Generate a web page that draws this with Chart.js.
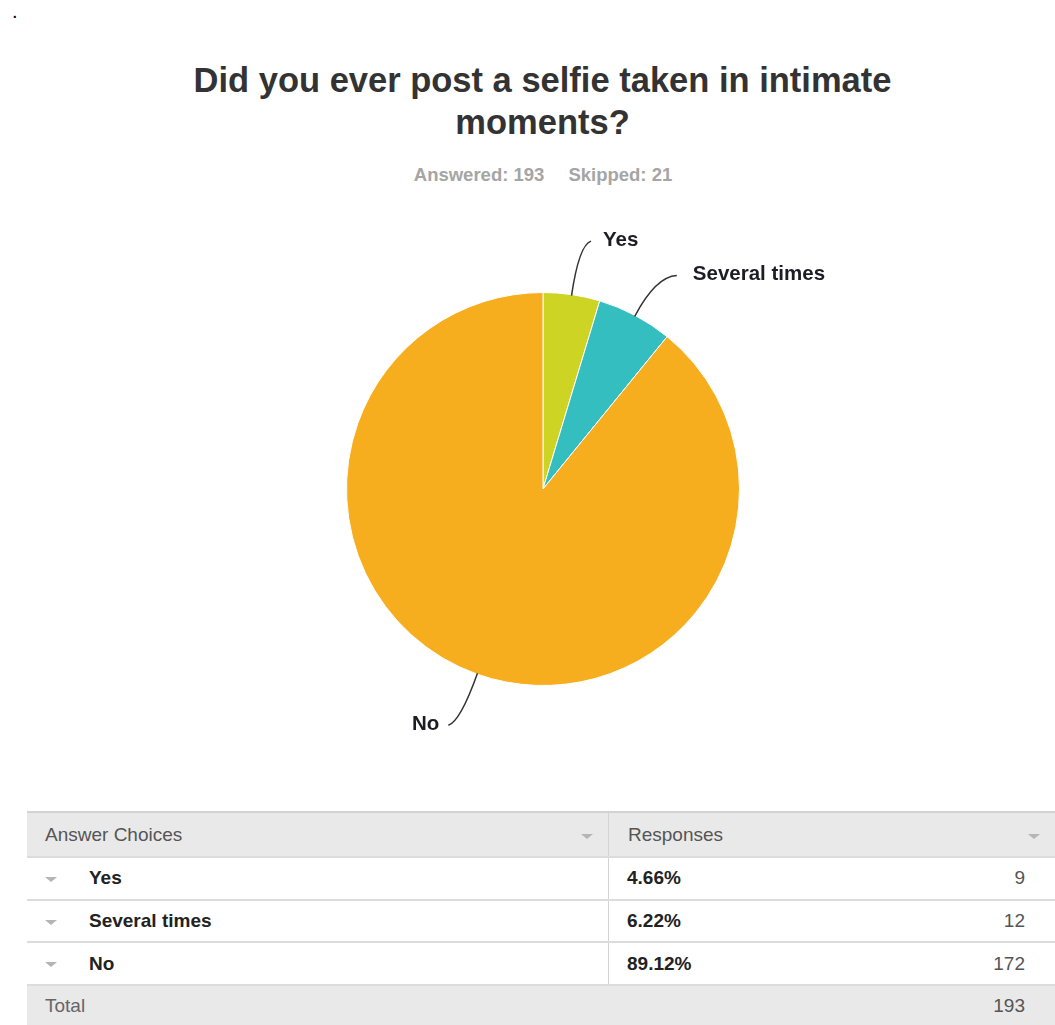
<!DOCTYPE html>
<html>
<head>
<meta charset="utf-8">
<script src="https://cdn.jsdelivr.net/npm/chart.js@4/dist/chart.umd.min.js"></script>
<style>
  body { margin: 0; background: #fff; font-family: "Liberation Sans", Arial, sans-serif; }
  * { box-sizing: border-box; }
  #page { position: relative; width: 1055px; height: 1025px; overflow: hidden; }
  .dot { position: absolute; left: 12px; top: 0px; font-size: 20px; color: #000; }
  .title { position: absolute; left: 30px; width: 1025px; top: 59px; text-align: center;
           font-size: 34.5px; line-height: 42px; font-weight: bold; color: #333; }
  .sub { position: absolute; left: 30px; width: 1026px; top: 164px; text-align: center;
         font-size: 18.5px; line-height: 22px; font-weight: bold; color: #a5a5a5; }
  .sub span + span { margin-left: 24px; }
  #chartBox { position: absolute; left: 0; top: 0; width: 1055px; height: 790px; }
  #grid { position: absolute; left: 27px; top: 811px; width: 1028px; font-size: 19px; }
  .row { position: relative; display: flex; border-bottom: 2px solid #dcdcdc; background: #fff; }
  .row.head { height: 47px; border-top: 2px solid #d3d3d3; background: #e9e9e9; color: #555; }
  .row.body { height: 42.7px; color: #222; }
  .row.total { height: 40px; border-bottom: none; background: #e9e9e9; color: #666; }
  .c1 { position: relative; width: 582px; flex: none; border-right: 1px solid #d3d3d3; display: flex; align-items: center; }
  .c2 { position: relative; flex: 1; display: flex; align-items: center; }
  .row.total .c1 { border-right: none; }
  .head .c1 { padding-left: 18px; }
  .head .c2 { padding-left: 19px; }
  .body .c1 { padding-left: 62px; font-weight: bold; }
  .body .c2 { padding-left: 18px; font-weight: bold; }
  .total .c1 { padding-left: 18px; }
  .num { position: absolute; right: 30px; font-weight: normal; color: #555; }
  .tri { position: absolute; width: 0; height: 0; border-left: 6px solid transparent;
         border-right: 6px solid transparent; border-top: 5px solid #b5b5b5; }
  .head .tri { right: 15px; top: 21px; }
  .body .tri { left: 18px; top: 19px; }
</style>
</head>
<body>
<div id="page">
  <div class="dot">.</div>
  <div class="title">Did you ever post a selfie taken in intimate<br>moments?</div>
  <div class="sub"><span id="answered"></span><span id="skipped"></span></div>
  <div id="chartBox"><canvas id="myPieChart"></canvas></div>
  <div id="grid"></div>
</div>
<script>
const choices = ['Yes', 'Several times', 'No'];
const responses = [9, 12, 172];
const percents = ['4.66%', '6.22%', '89.12%'];
const sliceColors = ['#cdd424', '#34bec0', '#f6ae1f'];
const answered = 193;
const skipped = 21;

document.getElementById('answered').textContent = 'Answered: ' + answered;
document.getElementById('skipped').textContent = 'Skipped: ' + skipped;

// callout lines: radial run, then a short hook toward the label
const callouts = [
    { ext: 50, hook: 12, gap: 12, lift: 4 },
    { ext: 44, hook: 21, gap: 16, lift: 1 },
    { ext: 50, hook: 12, gap: 9, lift: -4 },
];

const calloutPlugin = {
    id: 'callouts',
    afterDatasetsDraw(chart) {
        const ctx = chart.ctx;
        const arcs = chart.getDatasetMeta(0).data;
        ctx.save();
        ctx.font = 'bold 20.5px "Liberation Sans", Arial, sans-serif';
        ctx.textBaseline = 'middle';
        arcs.forEach((arc, i) => {
            const { x, y, startAngle, endAngle, outerRadius } = arc.getProps(['x', 'y', 'startAngle', 'endAngle', 'outerRadius'], true);
            const mid = (startAngle + endAngle) / 2;
            const dx = Math.cos(mid), dy = Math.sin(mid);
            const c = callouts[i];
            const sx = x + dx * (outerRadius - 1), sy = y + dy * (outerRadius - 1);
            const ex = x + dx * (outerRadius + c.ext), ey = y + dy * (outerRadius + c.ext);
            const side = dx >= 0 ? 1 : -1;
            const tx = ex + side * c.hook, ty = ey - c.lift;
            ctx.beginPath();
            ctx.moveTo(sx, sy);
            ctx.quadraticCurveTo(ex, ey, tx, ty);
            ctx.strokeStyle = '#333';
            ctx.lineWidth = 1.5;
            ctx.stroke();
            ctx.fillStyle = '#1c1c24';
            ctx.textAlign = side > 0 ? 'left' : 'right';
            ctx.fillText(chart.data.labels[i], tx + side * c.gap, ty - 1);
        });
        ctx.restore();
    },
};

const config = {
    type: 'pie',
    data: {
        labels: choices,
        datasets: [{
            data: responses,
            backgroundColor: sliceColors,
            borderColor: '#ffffff',
            borderWidth: 1,
            hoverOffset: 0,
        }],
    },
    options: {
        responsive: true,
        maintainAspectRatio: false,
        animation: false,
        events: [],
        layout: { padding: { left: 346, right: 315, top: 292, bottom: 104 } },
        plugins: {
            legend: { display: false },
            tooltip: { enabled: false },
            title: { display: false },
        },
    },
    plugins: [calloutPlugin],
};

var ctx = document.getElementById('myPieChart').getContext('2d');
var myPieChart = new Chart(ctx, config);

// answer table under the pie
const grid = document.getElementById('grid');
let html = '<div class="row head"><div class="c1">Answer Choices<span class="tri"></span></div>' +
           '<div class="c2">Responses<span class="tri"></span></div></div>';
choices.forEach((name, i) => {
    html += '<div class="row body"><div class="c1"><span class="tri"></span>' + name + '</div>' +
            '<div class="c2">' + percents[i] + '<span class="num">' + responses[i] + '</span></div></div>';
});
html += '<div class="row total"><div class="c1">Total</div><div class="c2"><span class="num">' +
        responses.reduce((a, b) => a + b, 0) + '</span></div></div>';
grid.innerHTML = html;
</script>
</body>
</html>
